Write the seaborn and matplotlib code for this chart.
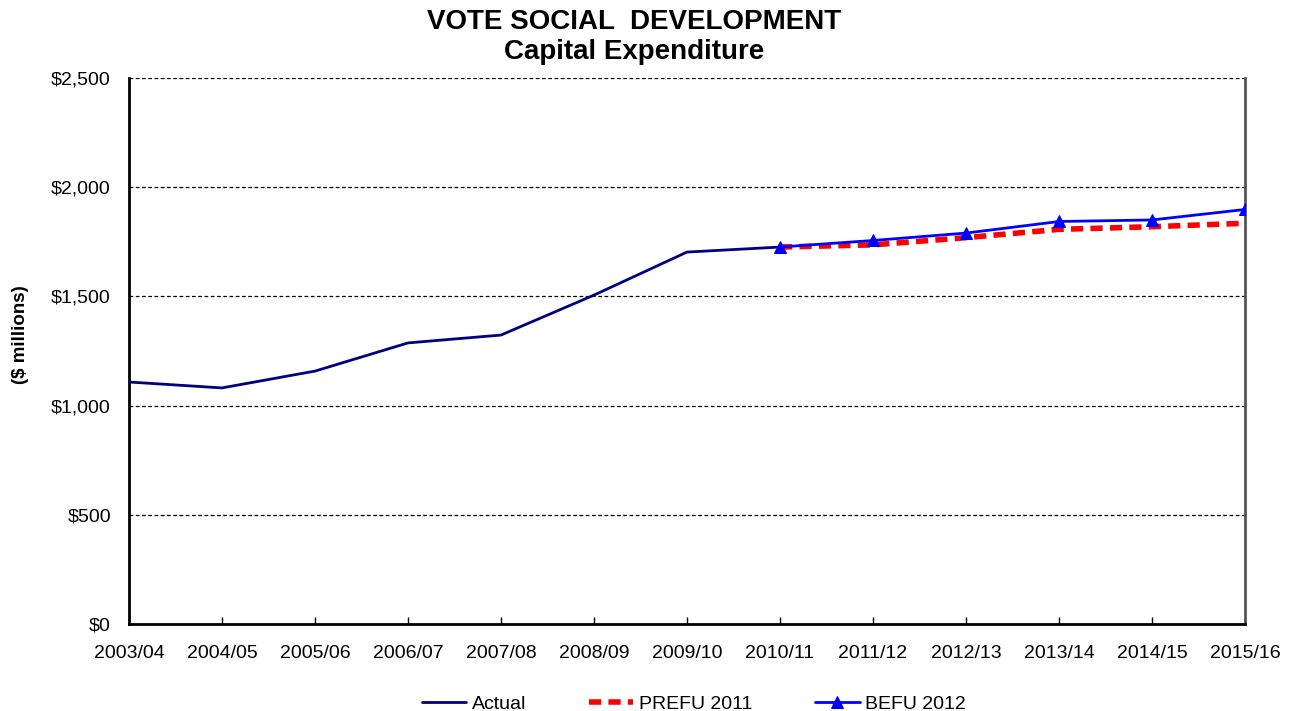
import matplotlib
matplotlib.use("Agg")
import matplotlib.pyplot as plt
import seaborn as sns
import pandas as pd
import numpy as np

years = ["2003/04", "2004/05", "2005/06", "2006/07", "2007/08", "2008/09", "2009/10",
         "2010/11", "2011/12", "2012/13", "2013/14", "2014/15", "2015/16"]
actual = [1108, 1081, 1158, 1287, 1323, 1506, 1703, 1726]
prefu_2011 = [1726, 1736, 1769, 1807, 1819, 1835]
befu_2012 = [1726, 1756, 1790, 1843, 1850, 1898]
y_ticks = [0, 500, 1000, 1500, 2000, 2500]

sns.set_theme(style="white")
plt.rcParams['font.family'] = ['Liberation Sans', 'DejaVu Sans']
plt.rcParams['text.color'] = 'black'
plt.rcParams['xtick.color'] = 'black'
plt.rcParams['ytick.color'] = 'black'
plt.rcParams['axes.labelcolor'] = 'black'

df_a = pd.DataFrame({"x": np.arange(len(actual)), "v": actual})
df_p = pd.DataFrame({"x": np.arange(7, 7 + len(prefu_2011)), "v": prefu_2011})
df_b = pd.DataFrame({"x": np.arange(7, 7 + len(befu_2012)), "v": befu_2012})

fig = plt.figure(figsize=(12.97, 7.11), dpi=100)
ax = fig.add_axes([129/1297, 87/711, (1245-129)/1297, (624-78)/711])

for yv in y_ticks[1:]:
    ax.axhline(yv, color="black", lw=0.9, ls=(0, (3, 2)), zorder=1)

sns.lineplot(data=df_a, x="x", y="v", ax=ax, color="#000080", lw=2, label="Actual", zorder=3)
sns.lineplot(data=df_p, x="x", y="v", ax=ax, color="#FF0000", lw=4, ls=(0, (2.2, 1.3)),
             label="PREFU 2011", zorder=4)
sns.lineplot(data=df_b, x="x", y="v", ax=ax, color="#0000FF", lw=2, marker="^", markersize=8,
             markeredgecolor="#0000FF", label="BEFU 2012", zorder=5)

ax.set_xlim(0, len(years) - 1)
ax.set_ylim(0, 2500)
ax.set_xticks(range(len(years)))
ax.set_xticklabels(years, fontsize=14)
ax.set_yticks(y_ticks)
ax.set_yticklabels([f"${v:,}" for v in y_ticks], fontsize=14)
ax.tick_params(axis="x", direction="in", length=5, width=1, pad=15, bottom=True, color="black")
ax.tick_params(axis="y", length=0, pad=13)
ax.set_xlabel("")
ax.set_ylabel("($ millions)", fontsize=13.5, fontweight="bold")
ax.yaxis.set_label_coords(-0.09, 0.53)

ax.spines["left"].set_color("black")
ax.spines["left"].set_linewidth(2)
ax.spines["bottom"].set_color("black")
ax.spines["bottom"].set_linewidth(2)
ax.spines["right"].set_color("#555555")
ax.spines["right"].set_linewidth(2)
ax.spines["top"].set_visible(False)

fig.text(634/1297, 1 - 37/711, "VOTE SOCIAL  DEVELOPMENT\nCapital Expenditure",
         fontsize=20, fontweight="bold", ha="center", va="center", linespacing=1.22)

ax.legend_.remove()
h, l = ax.get_legend_handles_labels()
fig.legend(h, l, loc="lower center", bbox_to_anchor=(0.535, -0.027), ncol=3, frameon=False,
           fontsize=14, handlelength=2.3, columnspacing=3.2, handletextpad=0.3)

fig.savefig("out.png", dpi=100)
